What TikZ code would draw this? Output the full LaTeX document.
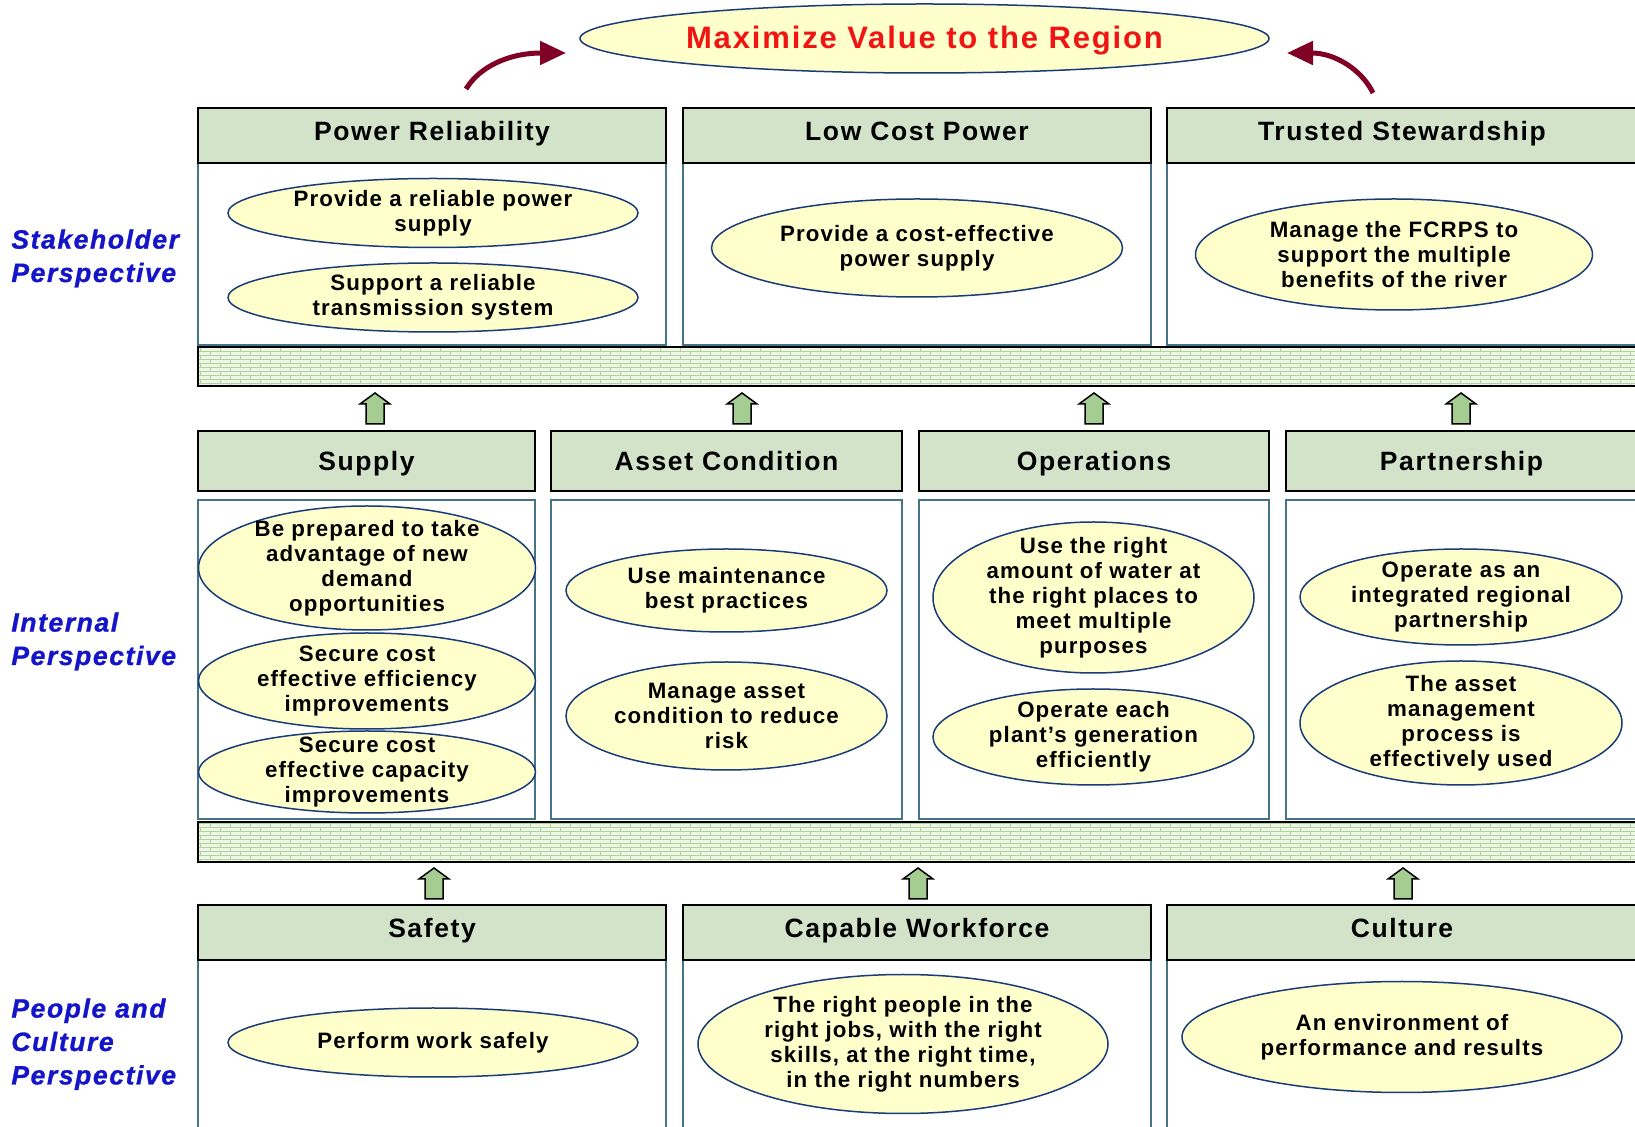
\documentclass[tikz,border=0pt]{standalone}
\usepackage{fontspec}
\setmainfont{Liberation Sans}
\newfontfamily\lsp{Liberation Sans}[LetterSpace=5]
\newfontfamily\lspw{Liberation Sans}[LetterSpace=6]
\newfontfamily\persfont{Liberation Sans}[LetterSpace=6, BoldItalicFeatures={FakeBold=1}]
\usetikzlibrary{shapes.geometric,arrows.meta,patterns}
\definecolor{hdrgreen}{RGB}{211,227,202}
\definecolor{eyellow}{RGB}{255,255,204}
\definecolor{enavy}{RGB}{25,60,120}
\definecolor{boxteal}{RGB}{70,115,135}
\definecolor{bandgreen}{RGB}{238,246,232}
\definecolor{brickgreen}{RGB}{175,212,155}
\definecolor{arrgreen}{RGB}{165,205,145}
\definecolor{darkmaroon}{RGB}{128,0,38}
\definecolor{persblue}{RGB}{20,20,200}
\definecolor{titlered}{RGB}{240,20,20}
\pgfdeclarepatternformonly{minibricks}{\pgfpoint{-0.5pt}{-0.5pt}}{\pgfpoint{10.5pt}{4.5pt}}{\pgfpoint{10pt}{4pt}}{%
  \pgfsetlinewidth{0.4pt}%
  \pgfpathmoveto{\pgfpoint{0pt}{0pt}}\pgfpathlineto{\pgfpoint{10pt}{0pt}}%
  \pgfpathmoveto{\pgfpoint{0pt}{2pt}}\pgfpathlineto{\pgfpoint{10pt}{2pt}}%
  \pgfpathmoveto{\pgfpoint{0pt}{0pt}}\pgfpathlineto{\pgfpoint{0pt}{2pt}}%
  \pgfpathmoveto{\pgfpoint{5pt}{2pt}}\pgfpathlineto{\pgfpoint{5pt}{4pt}}%
  \pgfusepath{stroke}}
\tikzset{
  hdr/.style={draw=black, line width=1pt, fill=hdrgreen, inner sep=0pt, outer sep=0pt,
    anchor=north west, text height=0.73em, text depth=0.21em,
    font=\lspw\bfseries\fontsize{13.25pt}{15pt}\selectfont},
  hdrlow/.style={text height=0.91em, text depth=0em},
  bw/.style={minimum width=#1*0.5pt},
  bh/.style={minimum height=#1*0.5pt},
  bodybox/.style={draw=boxteal, line width=0.8pt, fill=white},
  bandbox/.style={draw=black, line width=0.8pt},
  goal/.style={ellipse, draw=enavy, fill=eyellow, line width=0.75pt, inner sep=0pt, outer sep=0pt},
  gtxt/.style={font=\lsp\bfseries\fontsize{11.15pt}{12.5pt}\selectfont, align=center, inner sep=0pt},
  pers/.style={font=\persfont\bfseries\itshape\fontsize{13.25pt}{16.7pt}\selectfont, text=persblue,
    align=left, inner sep=0pt, anchor=north west},
  curv/.style={draw=darkmaroon, line width=2.5pt, -{Triangle[length=13pt,width=11.5pt]}},
  uparr/.style={draw=black, fill=arrgreen, line width=0.75pt, line join=miter}
}
\newcommand{\blockarrow}[2]{\draw[uparr] (#1-9,#2) -- (#1+9,#2) -- (#1+9,#2-20) -- (#1+15,#2-20) -- (#1,#2-31) -- (#1-15,#2-20) -- (#1-9,#2-20) -- cycle;}
\begin{document}
\begin{tikzpicture}[x=0.5pt, y=-0.5pt]
\useasboundingbox (0,0) rectangle (1635,1127);
\fill[white] (0,0) rectangle (1635,1127);

% title
\node[goal, bw=689, bh=69, text=titlered, text height=1.0em, text depth=0pt,
  font=\lspw\bfseries\fontsize{15.5pt}{18pt}\selectfont] (title) at (924.5,38.5) {Maximize Value to the Region};
\coordinate (la0) at (466,89);
\coordinate (la1) at (566,53);
\coordinate (ra0) at (1373,93);
\coordinate (ra1) at (1287,53);
\draw[curv] (la0) .. controls (480,66) and (510,53) .. (la1);
\draw[curv] (ra0) .. controls (1362,70) and (1335,53) .. (ra1);

% perspective labels
\node[pers] (sp) at (11,229) {Stakeholder\\Perspective};
\node[pers] (ip) at (11,612) {Internal\\Perspective};
\node[pers] (pp) at (11,998) {People and\\Culture\\Perspective};

% row 1
\draw[bodybox] (198,163) rectangle (666,345);
\draw[bodybox] (683,163) rectangle (1151,345);
\draw[bodybox] (1167,163) rectangle (1640,345);
\node[hdr, bw=468, bh=55] (h1) at (198,108) {Power Reliability};
\node[hdr, bw=468, bh=55] (h2) at (683,108) {Low Cost Power};
\node[hdr, bw=470, bh=55] (h3) at (1167,108) {Trusted Stewardship};

\node[goal, bw=410, bh=69, label={[gtxt]center:{Provide a reliable power\\supply}}] (g1) at (433,213) {};
\node[goal, bw=410, bh=69, label={[gtxt]center:{Support a reliable\\transmission system}}] (g2) at (433,297.5) {};
\node[goal, bw=411, bh=98, label={[gtxt]center:{Provide a cost-effective\\power supply}}] (g3) at (917,248) {};
\node[goal, bw=397, bh=111, label={[gtxt]center:{Manage the FCRPS to\\support the multiple\\benefits of the river}}] (g4) at (1394,254.5) {};

% band 1
\fill[bandgreen] (198,347) rectangle (1640,386);
\fill[pattern=minibricks, pattern color=brickgreen] (198,347) rectangle (1640,386);
\draw[bandbox] (198,347) rectangle (1640,386);

\blockarrow{375}{424}
\blockarrow{742}{424}
\blockarrow{1094}{424}
\blockarrow{1461}{424}

% row 2
\draw[bodybox] (198,500) rectangle (535,819);
\draw[bodybox] (551,500) rectangle (902,819);
\draw[bodybox] (919,500) rectangle (1269,819);
\draw[bodybox] (1286,500) rectangle (1640,819);
\node[hdr, hdrlow, bw=337, bh=60] (h4) at (198,431) {Supply};
\node[hdr, hdrlow, bw=351, bh=60] (h5) at (551,431) {Asset Condition};
\node[hdr, hdrlow, bw=350, bh=60] (h6) at (919,431) {Operations};
\node[hdr, hdrlow, bw=351, bh=60] (h7) at (1286,431) {Partnership};

\node[goal, bw=337, bh=124, label={[gtxt]center:{Be prepared to take\\advantage of new\\demand\\opportunities}}] (g5) at (367,568) {};
\node[goal, bw=337, bh=96, label={[gtxt]center:{Secure cost\\effective efficiency\\improvements}}] (g6) at (367,681) {};
\node[goal, bw=337, bh=82, label={[gtxt]center:{Secure cost\\effective capacity\\improvements}}] (g7) at (367,772) {};
\node[goal, bw=321, bh=83, label={[gtxt]center:{Use maintenance\\best practices}}] (g8) at (726.5,590.5) {};
\node[goal, bw=321, bh=108, label={[gtxt]center:{Manage asset\\condition to reduce\\risk}}] (g9) at (726.5,716) {};
\node[goal, bw=321, bh=151, label={[gtxt]center:{Use the right\\amount of water at\\the right places to\\meet multiple\\purposes}}] (g10) at (1093.5,597.5) {};
\node[goal, bw=321, bh=96, label={[gtxt]center:{Operate each\\plant’s generation\\efficiently}}] (g11) at (1093.5,737) {};
\node[goal, bw=322, bh=96, label={[gtxt]center:{Operate as an\\integrated regional\\partnership}}] (g12) at (1461,597) {};
\node[goal, bw=322, bh=124, label={[gtxt]center:{The asset\\management\\process is\\effectively used}}] (g13) at (1461,723) {};

% band 2
\fill[bandgreen] (198,822) rectangle (1640,862);
\fill[pattern=minibricks, pattern color=brickgreen] (198,822) rectangle (1640,862);
\draw[bandbox] (198,822) rectangle (1640,862);

\blockarrow{434}{899}
\blockarrow{918}{899}
\blockarrow{1403}{899}

% row 3
\draw[bodybox] (198,960) rectangle (666,1140);
\draw[bodybox] (683,960) rectangle (1151,1140);
\draw[bodybox] (1167,960) rectangle (1640,1140);
\node[hdr, bw=468, bh=55] (h8) at (198,905) {Safety};
\node[hdr, bw=468, bh=55] (h9) at (683,905) {Capable Workforce};
\node[hdr, bw=470, bh=55] (h10) at (1167,905) {Culture};

\node[goal, bw=410, bh=69, label={[gtxt]center:{Perform work safely}}] (g14) at (433,1042.5) {};
\node[goal, bw=410, bh=139, label={[gtxt]center:{The right people in the\\right jobs, with the right\\skills, at the right time,\\in the right numbers}}] (g15) at (903,1044) {};
\node[goal, bw=440, bh=111, label={[gtxt]center:{An environment of\\performance and results}}] (g16) at (1402,1037) {};
\end{tikzpicture}
\end{document}
